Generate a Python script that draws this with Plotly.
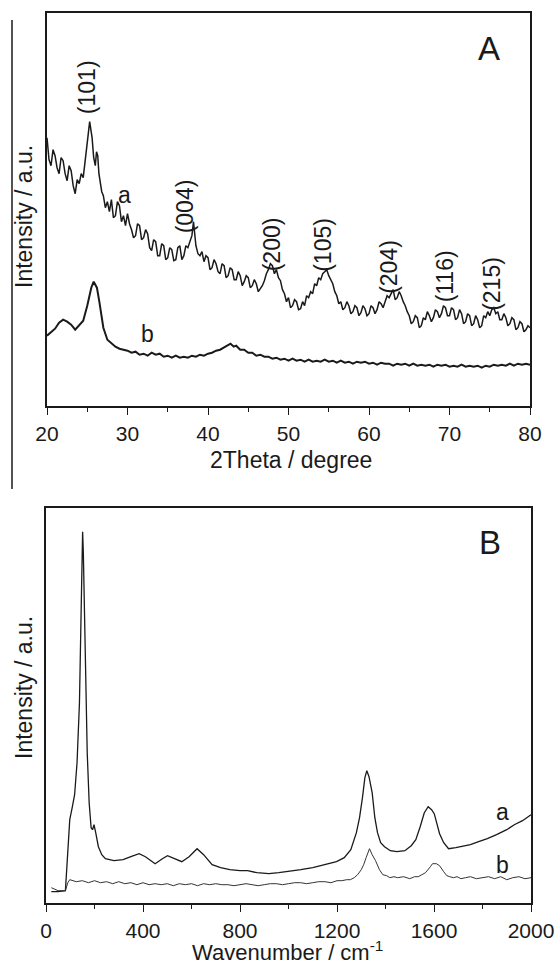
import plotly.graph_objects as go

# ---------------- Panel A : XRD ----------------
xrd_theta_a = [20, 20.25, 20.5, 20.75, 21, 21.25, 21.5, 21.75, 22, 22.25, 22.5, 22.75, 23, 23.25, 23.5, 23.75, 24, 24.25,
               24.5, 24.75, 25, 25.15, 25.3, 25.45, 25.6, 25.8, 26, 26.15, 26.3, 26.45, 26.6, 26.8, 27, 27.25, 27.5,
               27.75, 28, 28.25, 28.5, 28.75, 29, 29.25, 29.5, 29.75, 30, 30.25, 30.5, 30.75, 31, 31.25, 31.5, 31.75,
               32, 32.25, 32.5, 32.75, 33, 33.25, 33.5, 33.75, 34, 34.25, 34.5, 34.75, 35, 35.25, 35.5, 35.75, 36,
               36.25, 36.5, 36.75, 37, 37.25, 37.5, 37.75, 38, 38.2, 38.35, 38.5, 38.75, 39, 39.25, 39.5, 39.75, 40,
               40.25, 40.5, 40.75, 41, 41.25, 41.5, 41.75, 42, 42.25, 42.5, 42.75, 43, 43.25, 43.5, 43.75, 44, 44.25,
               44.5, 44.75, 45, 45.25, 45.5, 45.75, 46, 46.25, 46.5, 46.75, 47, 47.25, 47.5, 47.75, 48, 48.25, 48.5,
               48.75, 49, 49.25, 49.5, 49.75, 50, 50.25, 50.5, 50.75, 51, 51.25, 51.5, 51.75, 52, 52.25, 52.5, 52.75,
               53, 53.25, 53.5, 53.75, 54, 54.25, 54.5, 54.75, 55, 55.25, 55.5, 55.75, 56, 56.25, 56.5, 56.75, 57,
               57.25, 57.5, 57.75, 58, 58.25, 58.5, 58.75, 59, 59.25, 59.5, 59.75, 60, 60.25, 60.5, 60.75, 61, 61.25,
               61.5, 61.75, 62, 62.25, 62.5, 62.75, 63, 63.25, 63.5, 63.75, 64, 64.25, 64.5, 64.75, 65, 65.25, 65.5,
               65.75, 66, 66.25, 66.5, 66.75, 67, 67.25, 67.5, 67.75, 68, 68.25, 68.5, 68.75, 69, 69.25, 69.5, 69.75,
               70, 70.25, 70.5, 70.75, 71, 71.25, 71.5, 71.75, 72, 72.25, 72.5, 72.75, 73, 73.25, 73.5, 73.75, 74,
               74.25, 74.5, 74.75, 75, 75.25, 75.5, 75.75, 76, 76.25, 76.5, 76.75, 77, 77.25, 77.5, 77.75, 78, 78.25,
               78.5, 78.75, 79, 79.25, 79.5, 79.75, 80]
xrd_int_a = [268, 246, 240, 256, 250, 238, 232, 248, 245, 232, 225, 240, 235, 220, 212, 226, 222, 232,
             228, 245, 262, 275, 284, 276, 268, 248, 240, 254, 250, 232, 222, 214, 210, 198, 204,
             194, 206, 188, 190, 204, 200, 184, 190, 180, 192, 182, 176, 168, 170, 182, 180, 166,
             168, 176, 172, 158, 155, 166, 164, 150, 150, 162, 160, 146, 148, 158, 156, 145, 146,
             158, 160, 146, 150, 160, 158, 164, 170, 184, 172, 160, 152, 150, 154, 144, 150, 148,
             136, 138, 146, 142, 134, 132, 142, 140, 128, 130, 138, 136, 126, 126, 134, 130, 120,
             124, 130, 128, 118, 120, 126, 122, 114, 117, 120, 125, 132, 136, 142, 140, 132, 136,
             128, 125, 116, 112, 104, 108, 98, 100, 106, 104, 96, 97, 104, 100, 110, 108, 114,
             112, 122, 120, 128, 126, 132, 134, 136, 130, 126, 122, 114, 110, 102, 104, 96, 98,
             104, 100, 92, 94, 100, 98, 90, 93, 100, 97, 90, 92, 100, 98, 92, 96, 104,
             102, 98, 104, 110, 108, 112, 116, 106, 108, 114, 110, 104, 100, 94, 90, 82, 84,
             90, 88, 78, 80, 88, 86, 94, 90, 84, 88, 96, 94, 88, 92, 100, 98, 90,
             90, 98, 96, 86, 88, 96, 92, 82, 84, 92, 90, 80, 82, 90, 86, 78, 80,
             90, 88, 94, 90, 96, 98, 92, 94, 86, 86, 92, 88, 80, 82, 88, 86, 76,
             78, 84, 82, 74, 76, 80, 78]

xrd_theta_b = [20, 20.5, 21, 21.5, 22, 22.5, 23, 23.5, 24, 24.5, 25, 25.5, 25.8, 26.2, 26.5, 27, 27.5, 28, 28.5, 29,
               29.5, 30, 30.5, 31, 31.5, 32, 32.5, 33, 33.5, 34, 34.5, 35, 35.5, 36, 36.5, 37, 37.5, 38, 38.5, 39,
               39.5, 40, 40.5, 41, 41.5, 42, 42.5, 42.8, 43.2, 43.5, 44, 44.5, 45, 45.5, 46, 46.5, 47, 47.5, 48, 48.5,
               49, 49.5, 50, 50.5, 51, 51.5, 52, 52.5, 53, 53.5, 54, 54.5, 55, 55.5, 56, 56.5, 57, 57.5, 58, 58.5,
               59, 59.5, 60, 60.5, 61, 61.5, 62, 62.5, 63, 63.5, 64, 64.5, 65, 65.5, 66, 66.5, 67, 67.5, 68, 68.5,
               69, 69.5, 70, 70.5, 71, 71.5, 72, 72.5, 73, 73.5, 74, 74.5, 75, 75.5, 76, 76.5, 77, 77.5, 78, 78.5,
               79, 79.5, 80]
xrd_int_b = [70, 74, 77, 83, 86, 84, 81, 76, 80, 85, 100, 118, 124, 118, 104, 78, 66, 62, 59, 57,
             56, 55, 53, 54, 51, 52, 50, 53, 51, 52, 49, 50, 48, 50, 48, 49, 48, 50, 49, 51,
             50, 52, 53, 55, 56, 58, 60, 62, 59, 60, 56, 56, 53, 53, 50, 51, 49, 49, 47, 48,
             46, 47, 45, 47, 45, 46, 44, 46, 44, 45, 44, 46, 44, 45, 43, 45, 43, 44, 42, 44,
             43, 44, 42, 43, 41, 43, 42, 42, 40, 42, 41, 42, 40, 42, 40, 41, 40, 41, 39, 41,
             40, 41, 39, 40, 39, 41, 39, 40, 39, 40, 38, 40, 39, 41, 40, 41, 40, 42, 40, 42,
             41, 42, 41]

xrd_peak_labels = ["(101)", "(004)", "(200)", "(105)", "(204)", "(116)", "(215)"]
xrd_peak_x = [24.9, 37.1, 47.9, 54.3, 62.5, 69.4, 75.3]
xrd_peak_y = [319, 199, 161, 161, 139, 129, 122]

# ---------------- Panel B : Raman ----------------
raman_wn_a = [22, 50, 80, 88, 98, 108, 118, 128, 138, 144, 148, 151, 154, 158, 163, 170, 178, 186, 192, 198,
              205, 216, 230, 245, 280, 318, 350, 384, 410, 450, 480, 501, 530, 560, 590, 623, 650, 685, 720, 758,
              800, 831, 870, 919, 960, 1000, 1051, 1100, 1150, 1198, 1230, 1257, 1280, 1293, 1305, 1315, 1323, 1332, 1345, 1356,
              1367, 1380, 1396, 1420, 1447, 1480, 1506, 1525, 1543, 1560, 1576, 1590, 1601, 1612, 1623, 1640, 1660, 1690, 1711, 1750,
              1784, 1820, 1858, 1900, 1931, 1965, 2000]
raman_int_a = [11, 11, 12, 40, 83, 95, 108, 140, 200, 280, 340, 371, 350, 290, 225, 150, 100, 75, 73, 78,
               70, 56, 48, 44, 42, 43, 46, 49, 46, 39, 44, 47, 44, 41, 46, 54, 48, 38, 35, 33,
               32, 32, 30, 29, 30, 31, 33, 35, 38, 41, 45, 53, 70, 85, 105, 125, 132, 126, 110, 85,
               70, 60, 56, 52, 51, 52, 57, 63, 76, 90, 96, 93, 89, 78, 69, 60, 54, 55, 56, 58,
               61, 64, 68, 73, 78, 82, 88]

raman_wn_b = [22, 50, 80, 90, 98, 125, 150, 175, 200, 225, 250, 275, 300, 325, 350, 375, 400, 425, 450, 475,
              500, 525, 550, 575, 600, 625, 650, 675, 700, 725, 750, 775, 800, 825, 850, 875, 900, 925, 950, 975,
              1000, 1025, 1050, 1075, 1100, 1125, 1150, 1175, 1200, 1220, 1240, 1255, 1271, 1285, 1300, 1310, 1320, 1334, 1345, 1359,
              1375, 1389, 1405, 1418, 1435, 1450, 1475, 1500, 1520, 1535, 1550, 1565, 1585, 1594, 1610, 1623, 1640, 1653, 1665, 1680,
              1695, 1711, 1730, 1750, 1775, 1800, 1825, 1850, 1875, 1900, 1925, 1950, 1975, 2000]
raman_int_b = [15, 12, 12, 20, 23, 21, 22, 20, 22, 20, 21, 19, 21, 19, 20, 18, 20, 18, 19, 18,
               19, 17, 19, 18, 19, 17, 19, 18, 19, 18, 18, 17, 18, 19, 18, 17, 18, 19, 19, 18,
               19, 20, 20, 19, 20, 21, 21, 20, 22, 22, 23, 23, 25, 28, 33, 38, 45, 54, 48, 42,
               33, 28, 27, 25, 26, 25, 26, 24, 26, 26, 28, 30, 36, 39, 39, 37, 31, 27, 26, 25,
               26, 24, 25, 26, 24, 25, 26, 24, 26, 23, 25, 26, 24, 25]

FONT = "Arial, Liberation Sans, sans-serif"
INK = "#1a1a1a"

fig = go.Figure()
fig.add_trace(go.Scatter(x=xrd_theta_a, y=xrd_int_a, mode="lines", line=dict(color=INK, width=1.5),
                         xaxis="x", yaxis="y", showlegend=False))
fig.add_trace(go.Scatter(x=xrd_theta_b, y=xrd_int_b, mode="lines", line=dict(color=INK, width=2.0),
                         xaxis="x", yaxis="y", showlegend=False))
fig.add_trace(go.Scatter(x=raman_wn_a, y=raman_int_a, mode="lines", line=dict(color=INK, width=1.3),
                         xaxis="x2", yaxis="y2", showlegend=False))
fig.add_trace(go.Scatter(x=raman_wn_b, y=raman_int_b, mode="lines", line=dict(color="#333333", width=1.0),
                         xaxis="x2", yaxis="y2", showlegend=False))

W, H = 556, 968
def px(v): return v / W
def py(v): return 1 - v / H

axis_common = dict(showline=True, linecolor=INK, linewidth=1.5, mirror=True, showgrid=False, zeroline=False,
                   automargin=False)
xtick = dict(ticks="outside", ticklen=8, tickwidth=1.3, tickcolor=INK,
             tickfont=dict(family=FONT, size=21, color=INK))

fig.update_layout(
    width=W, height=H, margin=dict(l=0, r=0, t=0, b=0, pad=0, autoexpand=False), autosize=False,
    paper_bgcolor="white", plot_bgcolor="white",
    font=dict(family=FONT, color=INK),
    xaxis=dict(domain=[px(47), px(530)], range=[20, 80], anchor="y", dtick=10, tick0=20,
               minor=dict(ticks="outside", ticklen=5, dtick=5, tickcolor=INK, tickwidth=1.2),
               **xtick, **axis_common),
    yaxis=dict(domain=[py(405.7), py(13)], range=[0, 392.7], anchor="x", showticklabels=False, ticks="",
               **axis_common),
    xaxis2=dict(domain=[px(46), px(531)], range=[0, 2000], anchor="y2", dtick=400, tick0=0,
                minor=dict(ticks="outside", ticklen=5, dtick=200, tickcolor=INK, tickwidth=1.2),
                **xtick, **axis_common),
    yaxis2=dict(domain=[py(902.7), py(508.3)], range=[0, 394.4], anchor="x2", showticklabels=False, ticks="",
                **axis_common),
)

def txt(size):
    return dict(family=FONT, size=size, color=INK)

ann = []
# Panel A labels
for lab, x, y in zip(xrd_peak_labels, xrd_peak_x, xrd_peak_y):
    ann.append(dict(x=x, y=y, xref="x", yref="y", text=lab, textangle=-90, showarrow=False, font=txt(23),
                    xanchor="center", yanchor="middle"))
ann.append(dict(x=29.6, y=211, xref="x", yref="y", text="a", showarrow=False, font=txt(23)))
ann.append(dict(x=32.5, y=72, xref="x", yref="y", text="b", showarrow=False, font=txt(23)))
ann.append(dict(x=74.9, y=357, xref="x", yref="y", text="A", showarrow=False, font=txt(33)))
# Panel B labels
ann.append(dict(x=1884, y=91, xref="x2", yref="y2", text="a", showarrow=False, font=txt(23)))
ann.append(dict(x=1884, y=38, xref="x2", yref="y2", text="b", showarrow=False, font=txt(23)))
ann.append(dict(x=1831, y=360, xref="x2", yref="y2", text="B", showarrow=False, font=txt(33)))
# Axis titles
ann.append(dict(x=px(291), y=py(460), xref="paper", yref="paper", text="2Theta / degree", showarrow=False,
                font=txt(23), xanchor="center", yanchor="middle"))
ann.append(dict(x=px(24), y=py(217), xref="paper", yref="paper", text="Intensity / a.u.", textangle=-90,
                showarrow=False, font=txt(23), xanchor="center", yanchor="middle"))
ann.append(dict(x=px(287), y=py(967), xref="paper", yref="paper", text="Wavenumber / cm<sup>-1</sup>",
                showarrow=False, font=txt(22), xanchor="center", yanchor="bottom"))
ann.append(dict(x=px(24), y=py(688), xref="paper", yref="paper", text="Intensity / a.u.", textangle=-90,
                showarrow=False, font=txt(23), xanchor="center", yanchor="middle"))
fig.update_layout(annotations=ann)

# thin vertical rule at the left of panel A (part of the original figure frame)
fig.add_shape(type="line", xref="paper", yref="paper", x0=px(12), x1=px(12), y0=py(20), y1=py(489),
              line=dict(color=INK, width=1.5))

fig.write_html("out.html", config={"responsive": False, "displayModeBar": False},
               post_script="document.body.style.margin='0px';document.body.style.overflow='hidden';")
